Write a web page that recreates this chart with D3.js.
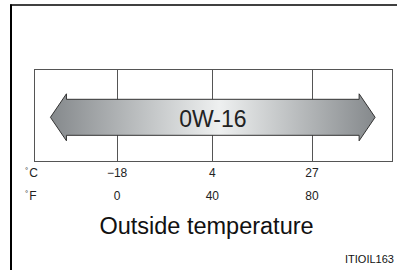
<!DOCTYPE html>
<html>
<head>
<meta charset="utf-8">
<script src="https://cdn.jsdelivr.net/npm/d3@7"></script>
<style>
  body { margin: 0; background: #fff; }
  text { font-family: "Liberation Sans", Arial, sans-serif; }
</style>
</head>
<body>
<div id="chart"></div>
<script>
// tick values
var celsiusTicks = [-18, 4, 27];
var fahrenheitLabels = ["0", "40", "80"];
var celsiusLabels = ["\u221218", "4", "27"];
var oilGrade = "0W-16";
var oilRange = [-33.4, 41.6];   // arrow ends, in deg C
var axisTitle = "Outside temperature";
var figureCode = "ITIOIL163";

var width = 398, height = 270;

var svg = d3.select("#chart").append("svg")
    .attr("width", width)
    .attr("height", height);

// page frame (left + top rule)
svg.append("line").attr("x1", 11).attr("x2", 11).attr("y1", 4.5).attr("y2", height)
    .attr("stroke", "#000").attr("stroke-width", 2);
svg.append("line").attr("x1", 10).attr("x2", 397).attr("y1", 5).attr("y2", 5)
    .attr("stroke", "#000").attr("stroke-width", 1.5);

var box = { left: 34, right: 392, top: 69, bottom: 161 };

var x = d3.scaleLinear()
    .domain([-37.2, 45.5])
    .range([box.left, box.right]);

// box + grid lines
svg.append("rect")
    .attr("x", box.left + 0.5).attr("y", box.top + 0.5)
    .attr("width", box.right - box.left).attr("height", box.bottom - box.top)
    .attr("fill", "none").attr("stroke", "#555").attr("stroke-width", 1);

svg.selectAll(".grid")
    .data(celsiusTicks)
    .enter().append("line")
    .attr("class", "grid")
    .attr("x1", function(d) { return Math.round(x(d)) + 0.5; })
    .attr("x2", function(d) { return Math.round(x(d)) + 0.5; })
    .attr("y1", box.top)
    .attr("y2", box.bottom)
    .attr("stroke", "#555").attr("stroke-width", 1);

// gradient for the arrow
var defs = svg.append("defs");
var grad = defs.append("linearGradient")
    .attr("id", "arrowGrad")
    .attr("gradientUnits", "userSpaceOnUse")
    .attr("x1", x(oilRange[0])).attr("x2", x(oilRange[1]))
    .attr("y1", 0).attr("y2", 0);
grad.append("stop").attr("offset", "0").attr("stop-color", "#85898c");
grad.append("stop").attr("offset", "0.52").attr("stop-color", "#eef0f0");
grad.append("stop").attr("offset", "1").attr("stop-color", "#85898c");

// double headed arrow
var midY = 117.3, shaftHalf = 18, headHalf = 23.5, headLen = 16;
var xl = x(oilRange[0]), xr = x(oilRange[1]);
var pts = [
    [xl, midY],
    [xl + headLen, midY - headHalf],
    [xl + headLen, midY - shaftHalf],
    [xr - headLen, midY - shaftHalf],
    [xr - headLen, midY - headHalf],
    [xr, midY],
    [xr - headLen, midY + headHalf],
    [xr - headLen, midY + shaftHalf],
    [xl + headLen, midY + shaftHalf],
    [xl + headLen, midY + headHalf]
];
svg.append("path")
    .attr("d", d3.line()(pts) + "Z")
    .attr("fill", "url(#arrowGrad)")
    .attr("stroke", "#333")
    .attr("stroke-width", 1)
    .attr("stroke-linejoin", "miter");

svg.append("text")
    .attr("x", x(4) + 0.5)
    .attr("y", 126.5)
    .attr("text-anchor", "middle")
    .style("font-size", "23px")
    .attr("fill", "#222")
    .text(oilGrade);

// unit rows
function unitLabel(y, unit) {
    var t = svg.append("text").attr("x", 25).attr("y", y).style("font-size", "12px").attr("fill", "#222");
    t.append("tspan").attr("dy", -4).style("font-size", "8px").text("\u00b0");
    t.append("tspan").attr("dy", 4).attr("dx", 1).text(unit);
}
unitLabel(177, "C");
unitLabel(200, "F");

svg.selectAll(".cLabel")
    .data(celsiusTicks)
    .enter().append("text")
    .attr("class", "cLabel")
    .attr("x", function(d) { return x(d); })
    .attr("y", 177)
    .attr("text-anchor", "middle")
    .style("font-size", "12px")
    .attr("fill", "#222")
    .text(function(d, i) { return celsiusLabels[i]; });

svg.selectAll(".fLabel")
    .data(celsiusTicks)
    .enter().append("text")
    .attr("class", "fLabel")
    .attr("x", function(d) { return x(d); })
    .attr("y", 200)
    .attr("text-anchor", "middle")
    .style("font-size", "12px")
    .attr("fill", "#222")
    .text(function(d, i) { return fahrenheitLabels[i]; });

svg.append("text")
    .attr("x", 206.5)
    .attr("y", 234)
    .attr("text-anchor", "middle")
    .style("font-size", "23.5px")
    .attr("fill", "#111")
    .text(axisTitle);

svg.append("text")
    .attr("x", 345)
    .attr("y", 263)
    .style("font-size", "11px")
    .attr("fill", "#111")
    .text(figureCode);
</script>
</body>
</html>
